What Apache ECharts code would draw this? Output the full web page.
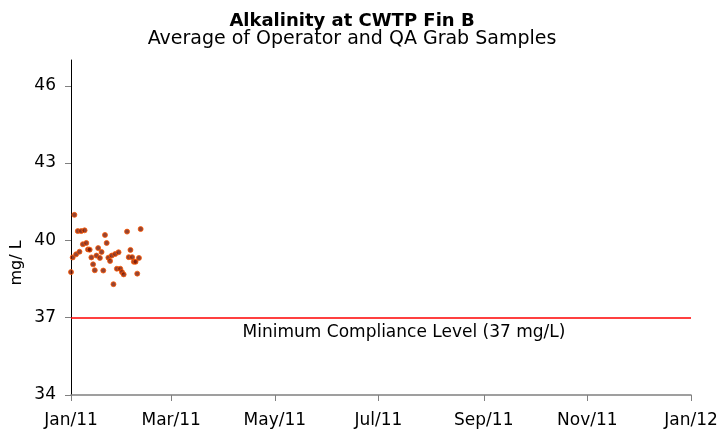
<!DOCTYPE html>
<html>
<head>
<meta charset="utf-8">
<script src="https://cdn.jsdelivr.net/npm/echarts@6/dist/echarts.min.js"></script>
<style>html,body{margin:0;padding:0;background:#fff}#c{width:722px;height:433px}</style>
</head>
<body>
<div id="c"></div>
<script>
// Sample dates (day offset from 2011-01-01) and alkalinity values (mg/L)
const dayOffsets = [0,1,2,3,4,5,6,7,8,9,10,11,12,13,14,15,16,17,18,19,20,21,22,23,24,25,26,27,28,29,30,31,33,34,35,36,37,38,39,40,41];
const alkalinity = [38.77,39.34,40.99,39.46,40.36,39.56,40.36,39.85,40.39,39.90,39.65,39.64,39.34,39.07,38.84,39.41,39.70,39.32,39.55,38.83,40.21,39.90,39.33,39.20,39.41,38.30,39.47,38.90,39.54,38.90,38.77,38.68,40.34,39.35,39.63,39.35,39.17,39.17,38.71,39.32,40.44];
const complianceLevel = 37;
const yTicks = [34,37,40,43,46];
const titleText = 'Alkalinity at CWTP Fin B';
const subtitleText = 'Average of Operator and QA Grab Samples';
const complianceLabel = 'Minimum Compliance Level (37 mg/L)';
const yAxisName = 'mg/ L';

const start = Date.UTC(2011,0,1);
const DAY = 86400000;
const points = dayOffsets.map((d,i)=>[start + d*DAY, alkalinity[i]]);
const xMin = Date.UTC(2011,0,1), xMax = Date.UTC(2012,0,1);

const chart = echarts.init(document.getElementById('c'), null, {renderer:'canvas'});
const font = '"DejaVu Sans", Arial, sans-serif';
chart.setOption({
  animation:false,
  useUTC:true,
  grid:{left:71,right:31,top:60,bottom:38,containLabel:false},
  xAxis:{
    type:'time',
    min:xMin,
    max:xMax,
    splitNumber:5,
    axisLine:{lineStyle:{color:'#808080',width:1.5}},
    axisTick:{show:true,length:6,lineStyle:{color:'#808080'}},
    splitLine:{show:false},
    axisLabel:{formatter:'{MMM}/{yy}',fontFamily:font,fontSize:17,color:'#000',margin:17,showMinLabel:true,showMaxLabel:true,hideOverlap:false}
  },
  yAxis:{
    type:'value',
    min:34,max:47,interval:3,
    axisLine:{show:true,lineStyle:{color:'#000',width:1}},
    axisTick:{show:true,length:6,lineStyle:{color:'#808080'},customValues:yTicks},
    splitLine:{show:false},
    axisLabel:{fontFamily:font,fontSize:17,color:'#000',margin:15,customValues:yTicks}
  },
  series:[
    {
      type:'scatter',
      data:points,
      symbol:'circle',
      symbolSize:5,
      itemStyle:{color:'#7a1500',borderColor:'#ff5a00',borderWidth:1},
      z:3,
      markLine:{
        silent:true,symbol:'none',
        lineStyle:{color:'#FF0000',width:1.5,type:'solid'},
        label:{show:false},
        data:[{yAxis:complianceLevel}]
      }
    }
  ],
  graphic:[
    {type:'text',x:352,y:21,style:{text:titleText,font:'bold 18px '+font,fill:'#000',textAlign:'center',textVerticalAlign:'middle'}},
    {type:'text',x:352,y:39,style:{text:subtitleText,font:'19px '+font,fill:'#000',textAlign:'center',textVerticalAlign:'middle'}},
    {type:'text',x:404,y:333,style:{text:complianceLabel,font:'17px '+font,fill:'#000',textAlign:'center',textVerticalAlign:'middle'}},
    {type:'text',x:17,y:263,rotation:Math.PI/2,style:{text:yAxisName,font:'16px '+font,fill:'#000',textAlign:'center',textVerticalAlign:'middle'}}
  ]
});
</script>
</body>
</html>
